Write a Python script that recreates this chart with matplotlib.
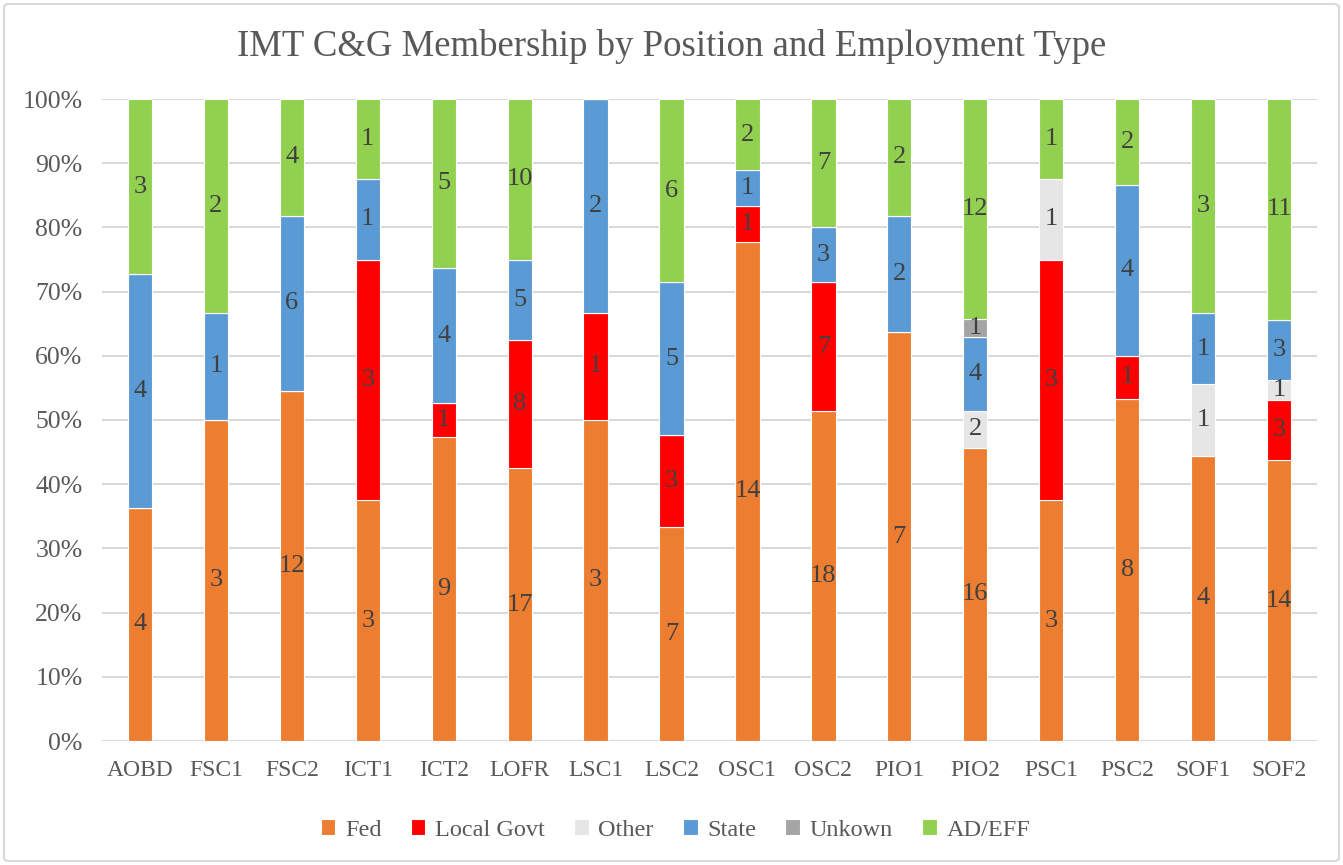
import numpy as np
import matplotlib.pyplot as plt
from matplotlib.patches import FancyBboxPatch
from matplotlib.ticker import PercentFormatter

positions = ['AOBD', 'FSC1', 'FSC2', 'ICT1', 'ICT2', 'LOFR', 'LSC1', 'LSC2',
             'OSC1', 'OSC2', 'PIO1', 'PIO2', 'PSC1', 'PSC2', 'SOF1', 'SOF2']

# member counts per position
fed =     [4, 3, 12, 3, 9, 17, 3, 7, 14, 18, 7, 16, 3, 8, 4, 14]
local =   [0, 0, 0, 3, 1, 8, 1, 3, 1, 7, 0, 0, 3, 1, 0, 3]
other =   [0, 0, 0, 0, 0, 0, 0, 0, 0, 0, 0, 2, 1, 0, 1, 1]
state =   [4, 1, 6, 1, 4, 5, 2, 5, 1, 3, 2, 4, 0, 4, 1, 3]
unknown = [0, 0, 0, 0, 0, 0, 0, 0, 0, 0, 0, 1, 0, 0, 0, 0]
ad_eff =  [3, 2, 4, 1, 5, 10, 0, 6, 2, 7, 2, 12, 1, 2, 3, 11]

series = [('Fed', fed, '#ED7D31'),
          ('Local Govt', local, '#FF0000'),
          ('Other', other, '#E7E6E6'),
          ('State', state, '#5B9BD5'),
          ('Unkown', unknown, '#A5A5A5'),
          ('AD/EFF', ad_eff, '#92D050')]

plt.rcParams['font.family'] = ['Liberation Serif', 'DejaVu Serif']

fig = plt.figure(figsize=(13.43, 8.65), dpi=100)
ax = fig.add_axes([102/1343, 1 - 741/865, 1215/1343, 642/865])

# rounded chart border
fig.patches.append(FancyBboxPatch((4/1343, 4/865), 1335/1343, 857/865,
                                  boxstyle='round,pad=0,rounding_size=0.004',
                                  transform=fig.transFigure, fill=False,
                                  edgecolor='#D9D9D9', linewidth=1.5))

totals = np.sum([np.array(s[1]) for s in series], axis=0)
x = np.arange(len(positions))
bottom = np.zeros(len(positions))
for name, vals, col in series:
    vals = np.array(vals)
    frac = vals / totals
    ax.bar(x, frac, 0.32, bottom=bottom, color=col, edgecolor='white',
           linewidth=0.8, label=name, zorder=3)
    for i in range(len(x)):
        if vals[i] > 0:
            ax.text(x[i], bottom[i] + frac[i] / 2, str(vals[i]), ha='center',
                    va='center', fontsize=19, color='#404040', zorder=4)
    bottom += frac

ax.set_xlim(-0.5, len(positions) - 0.5)
ax.set_ylim(0, 1)
ax.set_yticks(np.arange(0, 1.01, 0.1))
ax.yaxis.set_major_formatter(PercentFormatter(1.0, decimals=0))
ax.set_xticks(x)
ax.set_xticklabels(positions)
ax.tick_params(axis='both', length=0, labelcolor='#595959')
ax.tick_params(axis='x', pad=14, labelsize=17)
ax.tick_params(axis='y', pad=14, labelsize=18.5)
ax.grid(axis='y', color='#D9D9D9', linewidth=1.5, zorder=0)
for sp in ax.spines.values():
    sp.set_visible(False)

fig.text(0.5, 1 - 47/865, 'IMT C&G Membership by Position and Employment Type',
         ha='center', va='center', fontsize=26.5, color='#595959')

fig.legend(loc='center', bbox_to_anchor=(0.503, 1 - 830/865), ncol=6,
           frameon=False, fontsize=17.5, labelcolor='#595959',
           handlelength=0.6, handleheight=0.6, handletextpad=0.4,
           columnspacing=1.2)

fig.savefig('out.png', dpi=100)
